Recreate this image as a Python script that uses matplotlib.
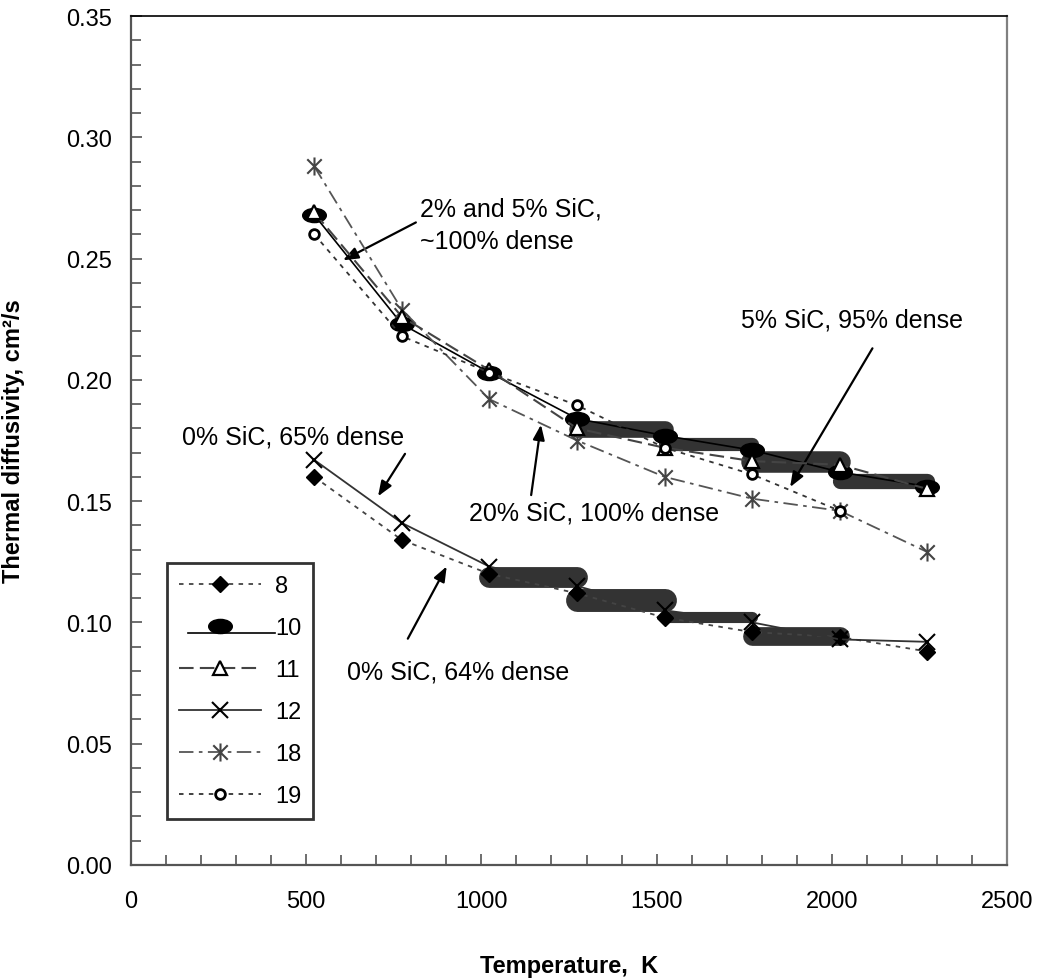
import matplotlib
matplotlib.use("Agg")
import matplotlib.pyplot as plt
from matplotlib.path import Path
from matplotlib.transforms import Affine2D
from matplotlib.legend_handler import HandlerLine2DCompound

plt.rcParams['font.family'] = ['Liberation Sans', 'DejaVu Sans']

# Temperatures (K) and thermal diffusivity (cm^2/s) per sample
temps = [523, 773, 1023, 1273, 1523, 1773, 2023, 2273]
temps_19 = [523, 773, 1023, 1273, 1523, 1773, 2023]
s8 = [0.160, 0.134, 0.120, 0.112, 0.102, 0.096, 0.094, 0.088]
s10 = [0.268, 0.223, 0.203, 0.184, 0.177, 0.171, 0.162, 0.156]
s11 = [0.269, 0.226, 0.204, 0.180, 0.172, 0.1665, 0.165, 0.155]
s12 = [0.167, 0.141, 0.123, 0.115, 0.105, 0.100, 0.093, 0.092]
s18 = [0.288, 0.229, 0.192, 0.175, 0.160, 0.151, 0.146, 0.129]
s19 = [0.260, 0.218, 0.203, 0.1895, 0.172, 0.161, 0.146]

# Heavy step bands between neighbouring temperatures
band_start = [1023, 1273, 1523, 1773, 1273, 1523, 1773, 2023]
band_end = [1273, 1523, 1773, 2023, 1523, 1773, 2023, 2273]
band_level = [0.1186, 0.1094, 0.1022, 0.0945, 0.1797, 0.1734, 0.1663, 0.1583]
band_thick = [15, 16.5, 8, 13.5, 12, 9.5, 15.5, 11]


class LoweredLineHandler(HandlerLine2DCompound):
    """Legend entry whose line sits a little below its marker."""

    def create_artists(self, legend, orig_handle, xdescent, ydescent,
                       width, height, fontsize, trans):
        line, marker = super().create_artists(legend, orig_handle, xdescent,
                                              ydescent, width, height,
                                              fontsize, trans)
        y = line.get_ydata()
        line.set_ydata([v - 0.3 * fontsize for v in y])
        x = line.get_xdata()
        line.set_xdata([x[0] + 0.4 * fontsize, x[-1] + 0.6 * fontsize])
        return [line, marker]


fig = plt.figure(figsize=(10.44, 9.79), dpi=100)
ax = fig.add_axes([131/1044, 1-866/979, 876/1044, 849/979])

for x0, x1, lev, th in zip(band_start, band_end, band_level, band_thick):
    ax.plot([x0, x1], [lev, lev], color='#333333', lw=th,
            solid_capstyle='round', zorder=2)

oval = Path.unit_circle().transformed(Affine2D().scale(1.0, 0.6))
ast_path = Path([(-1, -1), (1, 1), (-1, 1), (1, -1), (0, -1.25), (0, 1.25)],
                [Path.MOVETO, Path.LINETO, Path.MOVETO, Path.LINETO,
                 Path.MOVETO, Path.LINETO])

ax.plot(temps, s8, color='#444444', lw=1.3, ls=(0, (2.5, 3)),
        marker='D', ms=8, mfc='black', mec='black', label='8', zorder=4)
h10, = ax.plot(temps, s10, color='black', lw=1.2, ls='-',
               marker=oval, ms=17, mfc='black', mec='black', label='10', zorder=4)
ax.plot(temps, s11, color='#444444', lw=1.5, ls=(0, (7, 3)),
        marker='^', ms=10, mfc='white', mec='black', mew=1.6, label='11', zorder=5)
ax.plot(temps, s12, color='#333333', lw=1.3, ls='-',
        marker='x', ms=11, mec='black', mew=1.5, label='12', zorder=4)
ax.plot(temps, s18, color='#555555', lw=1.3, ls=(0, (8, 3, 2, 3)),
        marker=ast_path, ms=13, mec='#444444', mew=1.5, label='18', zorder=4)
ax.plot(temps_19, s19, color='#333333', lw=1.3, ls=(0, (2.5, 3)),
        marker='o', ms=7, mfc='white', mec='black', mew=2, label='19', zorder=6)

ax.set_xlim(0, 2500)
ax.set_ylim(0, 0.35)
ax.set_xticks(range(0, 2501, 500))
ax.set_xticks(range(0, 2501, 100), minor=True)
ax.set_yticks([0.00, 0.05, 0.10, 0.15, 0.20, 0.25, 0.30, 0.35])
ax.set_yticks([i / 100 for i in range(36)], minor=True)
ax.set_yticklabels([f'{v:.2f}' for v in ax.get_yticks()])
ax.tick_params(axis='both', which='both', direction='in', color='#555555',
               labelsize=17, top=False, right=False)
ax.tick_params(axis='both', which='major', length=8, width=1.2)
ax.tick_params(axis='both', which='minor', length=7, width=1.2)
ax.tick_params(axis='x', pad=18)
ax.tick_params(axis='y', pad=14)
for side, sp in ax.spines.items():
    sp.set_color('#555555' if side in ('left', 'bottom') else '#808080')
    sp.set_linewidth(1.6)
ax.spines['top'].set_color('black')
ax.spines['top'].set_linewidth(1.2)

ax.set_xlabel('Temperature,  K', fontsize=17, fontweight='bold')
ax.set_ylabel('Thermal diffusivity, cm²/s', fontsize=17, fontweight='bold')
ax.xaxis.set_label_coords(0.5, -0.105)
ax.yaxis.set_label_coords(-0.121, 0.5)

arrow = dict(arrowstyle='-|>,head_length=0.9,head_width=0.35', color='black',
             lw=1.6, shrinkA=0, shrinkB=0)
ax.annotate('', xy=(605, 0.2493), xytext=(813, 0.2649), arrowprops=arrow)
ax.text(825, 0.2640, '2% and 5% SiC,\n~100% dense', fontsize=18,
        ha='left', va='center', linespacing=1.45)
ax.annotate('', xy=(1881, 0.1558), xytext=(2116, 0.2130), arrowprops=arrow)
ax.text(2057, 0.2249, '5% SiC, 95% dense', fontsize=18, ha='center', va='center')
ax.annotate('', xy=(705, 0.1520), xytext=(782, 0.1695), arrowprops=arrow)
ax.text(146, 0.1765, '0% SiC, 65% dense', fontsize=18, ha='left', va='center')
ax.annotate('', xy=(1170, 0.1815), xytext=(1142, 0.1525), arrowprops=arrow)
ax.text(1321, 0.1455, '20% SiC, 100% dense', fontsize=18, ha='center', va='center')
ax.annotate('', xy=(901, 0.1231), xytext=(790, 0.0933), arrowprops=arrow)
ax.text(616, 0.0799, '0% SiC, 64% dense', fontsize=18, ha='left', va='center')

leg = ax.legend(loc='upper left', bbox_to_anchor=(0.0408, 0.3557),
                borderaxespad=0, fontsize=17, handlelength=3.5,
                handletextpad=0.6, labelspacing=0.85, borderpad=0.5,
                fancybox=False, frameon=True,
                handler_map={h10: LoweredLineHandler()})
leg.get_frame().set_edgecolor('black')
leg.get_frame().set_linewidth(2)

fig.savefig('out.png', dpi=100)
